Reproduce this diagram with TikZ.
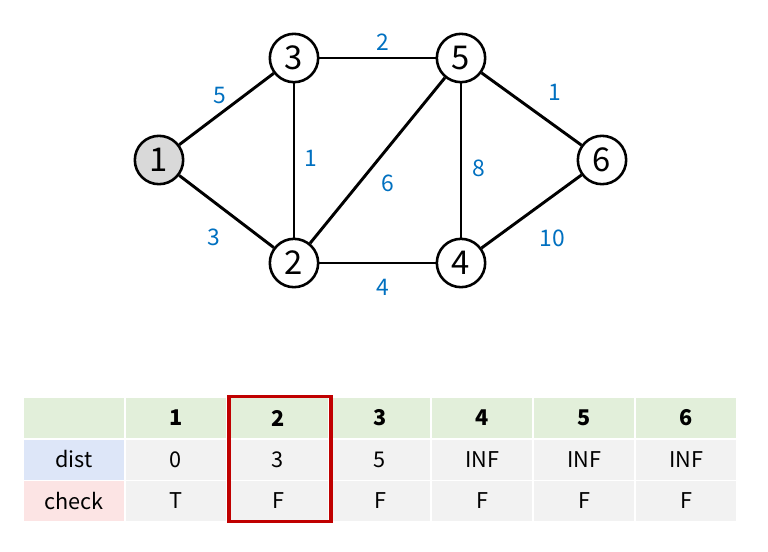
\documentclass[tikz,border=0pt]{standalone}
\usepackage{fontspec}
\setmainfont{Noto Sans CJK KR}
\usetikzlibrary{positioning}
\definecolor{wblue}{HTML}{0070C0}
\definecolor{hgreen}{HTML}{E2EFDA}
\definecolor{dblue}{HTML}{DDE6F8}
\definecolor{cpink}{HTML}{FCE4E4}
\definecolor{cgray}{HTML}{F2F2F2}
\definecolor{bred}{HTML}{C00000}
\definecolor{vgray}{HTML}{D9D9D9}
\tikzset{
  vertex/.style={circle,draw,line width=2.2pt,fill=white,minimum size=1.45cm,inner sep=0pt,font=\fontsize{28}{30}\selectfont},
  edge/.style={line width=2.5pt},
  wlabel/.style={text=wblue,font=\fontsize{19.5}{22}\selectfont},
  cell/.style={minimum width=3cm,minimum height=1.2cm,inner sep=0pt,font=\fontsize{18.5}{20}\selectfont},
  hcell/.style={cell,fill=hgreen,font=\fontsize{18.5}{20}\selectfont\bfseries},
  gcell/.style={cell,fill=cgray},
}
\begin{document}
\begin{tikzpicture}[x=0.03cm,y=-0.03cm]
\useasboundingbox (0,0) rectangle (768,551);
% graph
\node[vertex,fill=vgray] (v1) at (159,160) {1};
\node[vertex] (v3) at (294,58) {3};
\node[vertex] (v5) at (461,58) {5};
\node[vertex] (v2) at (294,263) {2};
\node[vertex] (v4) at (461,263) {4};
\node[vertex] (v6) at (602,160) {6};
\draw[edge] (v1) -- (v3);
\draw[edge] (v1) -- (v2);
\draw[edge] (v3) -- (v2);
\draw[edge] (v3) -- (v5);
\draw[edge] (v2) -- (v5);
\draw[edge] (v5) -- (v4);
\draw[edge] (v2) -- (v4);
\draw[edge] (v5) -- (v6);
\draw[edge] (v4) -- (v6);
\node[wlabel] (w13) at (220,95) {5};
\node[wlabel] (w12) at (214,237) {3};
\node[wlabel] (w32) at (311,158) {1};
\node[wlabel] (w35) at (383,42) {2};
\node[wlabel] (w25) at (388,183) {6};
\node[wlabel] (w54) at (479,168) {8};
\node[wlabel] (w24) at (383,287) {4};
\node[wlabel] (w56) at (555,92) {1};
\node[wlabel] (w46) at (552,238) {10};
% table
\node[hcell] (h0) at (74,418) {};
\node[hcell] (h1) at (176,418) {1};
\node[hcell] (h2) at (278,418) {2};
\node[hcell] (h3) at (380,418) {3};
\node[hcell] (h4) at (482,418) {4};
\node[hcell] (h5) at (584,418) {5};
\node[hcell] (h6) at (686,418) {6};
\node[cell,fill=dblue] (d0) at (74,459.5) {dist};
\node[gcell] (d1) at (176,459.5) {0};
\node[gcell] (d2) at (278,459.5) {3};
\node[gcell] (d3) at (380,459.5) {5};
\node[gcell] (d4) at (482,459.5) {INF};
\node[gcell] (d5) at (584,459.5) {INF};
\node[gcell] (d6) at (686,459.5) {INF};
\node[cell,fill=cpink] (c0) at (74,501) {check};
\node[gcell] (c1) at (176,501) {T};
\node[gcell] (c2) at (278,501) {F};
\node[gcell] (c3) at (380,501) {F};
\node[gcell] (c4) at (482,501) {F};
\node[gcell] (c5) at (584,501) {F};
\node[gcell] (c6) at (686,501) {F};
\draw[bred,line width=2.6pt] (229,396.5) rectangle (331,521.5);
\end{tikzpicture}
\end{document}
